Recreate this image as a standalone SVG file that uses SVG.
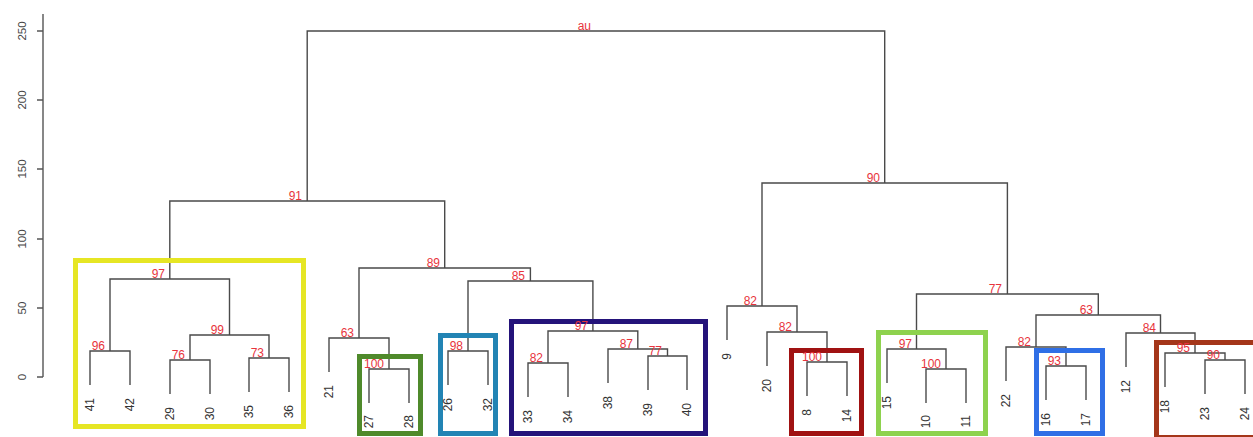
<svg xmlns="http://www.w3.org/2000/svg" width="1253" height="437" viewBox="0 0 1253 437">
<style>
.bg{fill:#ffffff}
.ax{stroke:#555555;stroke-width:1.4;fill:none}
.axt{font-family:"Liberation Sans",Arial,sans-serif;font-size:11.5px;fill:#444444;text-anchor:middle}
.br{stroke:#4a4a4a;stroke-width:1.4;fill:none}
.lf{font-family:"Liberation Sans",Arial,sans-serif;font-size:12px;fill:#333333;text-anchor:end}
.au{font-family:"Liberation Sans",Arial,sans-serif;font-size:12px;fill:#e8343c;text-anchor:end}
.box{fill:none;stroke-width:5}
</style>
<rect class="bg" x="0" y="0" width="1253" height="437"/>
<g id="axis">
<path class="ax" d="M43 14 V377 M37 31 H43 M37 100 H43 M37 169 H43 M37 239 H43 M37 308 H43 M37 377 H43"/>
<text class="axt" transform="translate(26,31) rotate(-90)">250</text>
<text class="axt" transform="translate(26,100) rotate(-90)">200</text>
<text class="axt" transform="translate(26,169) rotate(-90)">150</text>
<text class="axt" transform="translate(26,239) rotate(-90)">100</text>
<text class="axt" transform="translate(26,308) rotate(-90)">50</text>
<text class="axt" transform="translate(26,377) rotate(-90)">0</text>
</g>
<g id="connectors">
<path class="br" d="M90 385 V351 H130 V385"/>
<path class="br" d="M170 394 V360 H210 V394"/>
<path class="br" d="M249 392 V358 H289 V392"/>
<path class="br" d="M190 360 V335 H269 V358"/>
<path class="br" d="M110 351 V279 H229.5 V335"/>
<path class="br" d="M369 403 V369 H409 V403"/>
<path class="br" d="M329 372 V338 H389 V369"/>
<path class="br" d="M448 385 V351 H488 V385"/>
<path class="br" d="M528 397 V363 H568 V397"/>
<path class="br" d="M648 390 V356 H687 V390"/>
<path class="br" d="M608 383 V349 H667.5 V356"/>
<path class="br" d="M548 363 V331 H637.8 V349"/>
<path class="br" d="M468 351 V281 H592.9 V331"/>
<path class="br" d="M359 338 V268 H530.4 V281"/>
<path class="br" d="M169.8 279 V201 H444.7 V268"/>
<path class="br" d="M807 396 V362 H847 V396"/>
<path class="br" d="M767 366 V332 H827 V362"/>
<path class="br" d="M727 340 V306 H797 V332"/>
<path class="br" d="M926 403 V369 H966 V403"/>
<path class="br" d="M887 383 V349 H946 V369"/>
<path class="br" d="M1046 400 V366 H1086 V400"/>
<path class="br" d="M1006 381 V347 H1066 V366"/>
<path class="br" d="M1205 394 V360 H1245 V394"/>
<path class="br" d="M1165 387 V353 H1225 V360"/>
<path class="br" d="M1126 367 V333 H1195 V353"/>
<path class="br" d="M1036 347 V315 H1160.5 V333"/>
<path class="br" d="M916.5 349 V294 H1098.3 V315"/>
<path class="br" d="M762 306 V183 H1007.4 V294"/>
<path class="br" d="M307.2 201 V31 H884.7 V183"/>
</g>
<g id="boxes">
<rect id="box-yellow" class="box" stroke="#e6e624" x="75.5" y="260.5" width="228" height="166"/>
<rect id="box-green" class="box" stroke="#4f8a2b" x="359.5" y="356.5" width="61" height="77"/>
<rect id="box-teal" class="box" stroke="#2284b4" x="440.5" y="335.5" width="55" height="98"/>
<rect id="box-navy" class="box" stroke="#24137a" x="511.5" y="321.5" width="194" height="112"/>
<rect id="box-darkred" class="box" stroke="#a01212" x="791.5" y="350.5" width="70" height="83"/>
<rect id="box-lightgreen" class="box" stroke="#8ed24e" x="878.5" y="332.5" width="107" height="101"/>
<rect id="box-blue" class="box" stroke="#2f6fe6" x="1036.5" y="350.5" width="66" height="83"/>
<rect id="box-brown" class="box" stroke="#a4361a" x="1156.5" y="342.5" width="100" height="95"/>
</g>
<g id="au-labels">
<g id="n-root"><text class="au" x="591" y="30">au</text></g>
<g id="n-A"><text class="au" x="105" y="350">96</text></g>
<g id="n-B"><text class="au" x="185" y="359">76</text></g>
<g id="n-C"><text class="au" x="264" y="357">73</text></g>
<g id="n-D"><text class="au" x="224" y="334">99</text></g>
<g id="n-E"><text class="au" x="165" y="278">97</text></g>
<g id="n-F"><text class="au" x="384" y="368">100</text></g>
<g id="n-G"><text class="au" x="354" y="337">63</text></g>
<g id="n-H"><text class="au" x="463" y="350">98</text></g>
<g id="n-I"><text class="au" x="543" y="362">82</text></g>
<g id="n-J"><text class="au" x="662" y="355">77</text></g>
<g id="n-K"><text class="au" x="633" y="348">87</text></g>
<g id="n-L"><text class="au" x="588" y="330">97</text></g>
<g id="n-M"><text class="au" x="525" y="280">85</text></g>
<g id="n-N"><text class="au" x="440" y="267">89</text></g>
<g id="n-O"><text class="au" x="302" y="200">91</text></g>
<g id="n-P"><text class="au" x="822" y="361">100</text></g>
<g id="n-Q"><text class="au" x="792" y="331">82</text></g>
<g id="n-R"><text class="au" x="757" y="305">82</text></g>
<g id="n-S"><text class="au" x="941" y="368">100</text></g>
<g id="n-T"><text class="au" x="912" y="348">97</text></g>
<g id="n-U"><text class="au" x="1061" y="365">93</text></g>
<g id="n-V"><text class="au" x="1031" y="346">82</text></g>
<g id="n-W"><text class="au" x="1220" y="359">90</text></g>
<g id="n-X"><text class="au" x="1190" y="352">95</text></g>
<g id="n-Y"><text class="au" x="1156" y="332">84</text></g>
<g id="n-Z"><text class="au" x="1093" y="314">63</text></g>
<g id="n-AA"><text class="au" x="1002" y="293">77</text></g>
<g id="n-AB"><text class="au" x="880" y="182">90</text></g>
</g>
<g id="leaves">
<g id="leaf-41"><text class="lf" dy="0.35em" transform="translate(90,398) rotate(-90)">41</text></g>
<g id="leaf-42"><text class="lf" dy="0.35em" transform="translate(130,398) rotate(-90)">42</text></g>
<g id="leaf-29"><text class="lf" dy="0.35em" transform="translate(170,407) rotate(-90)">29</text></g>
<g id="leaf-30"><text class="lf" dy="0.35em" transform="translate(210,407) rotate(-90)">30</text></g>
<g id="leaf-35"><text class="lf" dy="0.35em" transform="translate(249,405) rotate(-90)">35</text></g>
<g id="leaf-36"><text class="lf" dy="0.35em" transform="translate(289,405) rotate(-90)">36</text></g>
<g id="leaf-21"><text class="lf" dy="0.35em" transform="translate(329,385) rotate(-90)">21</text></g>
<g id="leaf-27"><text class="lf" dy="0.35em" transform="translate(369,415) rotate(-90)">27</text></g>
<g id="leaf-28"><text class="lf" dy="0.35em" transform="translate(409,415) rotate(-90)">28</text></g>
<g id="leaf-26"><text class="lf" dy="0.35em" transform="translate(448,398) rotate(-90)">26</text></g>
<g id="leaf-32"><text class="lf" dy="0.35em" transform="translate(488,398) rotate(-90)">32</text></g>
<g id="leaf-33"><text class="lf" dy="0.35em" transform="translate(528,410) rotate(-90)">33</text></g>
<g id="leaf-34"><text class="lf" dy="0.35em" transform="translate(568,410) rotate(-90)">34</text></g>
<g id="leaf-38"><text class="lf" dy="0.35em" transform="translate(608,396) rotate(-90)">38</text></g>
<g id="leaf-39"><text class="lf" dy="0.35em" transform="translate(648,403) rotate(-90)">39</text></g>
<g id="leaf-40"><text class="lf" dy="0.35em" transform="translate(687,403) rotate(-90)">40</text></g>
<g id="leaf-9"><text class="lf" dy="0.35em" transform="translate(727,353) rotate(-90)">9</text></g>
<g id="leaf-20"><text class="lf" dy="0.35em" transform="translate(767,379) rotate(-90)">20</text></g>
<g id="leaf-8"><text class="lf" dy="0.35em" transform="translate(807,409) rotate(-90)">8</text></g>
<g id="leaf-14"><text class="lf" dy="0.35em" transform="translate(847,409) rotate(-90)">14</text></g>
<g id="leaf-15"><text class="lf" dy="0.35em" transform="translate(887,396) rotate(-90)">15</text></g>
<g id="leaf-10"><text class="lf" dy="0.35em" transform="translate(926,415) rotate(-90)">10</text></g>
<g id="leaf-11"><text class="lf" dy="0.35em" transform="translate(966,415) rotate(-90)">11</text></g>
<g id="leaf-22"><text class="lf" dy="0.35em" transform="translate(1006,394) rotate(-90)">22</text></g>
<g id="leaf-16"><text class="lf" dy="0.35em" transform="translate(1046,413) rotate(-90)">16</text></g>
<g id="leaf-17"><text class="lf" dy="0.35em" transform="translate(1086,413) rotate(-90)">17</text></g>
<g id="leaf-12"><text class="lf" dy="0.35em" transform="translate(1126,380) rotate(-90)">12</text></g>
<g id="leaf-18"><text class="lf" dy="0.35em" transform="translate(1165,400) rotate(-90)">18</text></g>
<g id="leaf-23"><text class="lf" dy="0.35em" transform="translate(1205,407) rotate(-90)">23</text></g>
<g id="leaf-24"><text class="lf" dy="0.35em" transform="translate(1245,407) rotate(-90)">24</text></g>
</g>
</svg>
